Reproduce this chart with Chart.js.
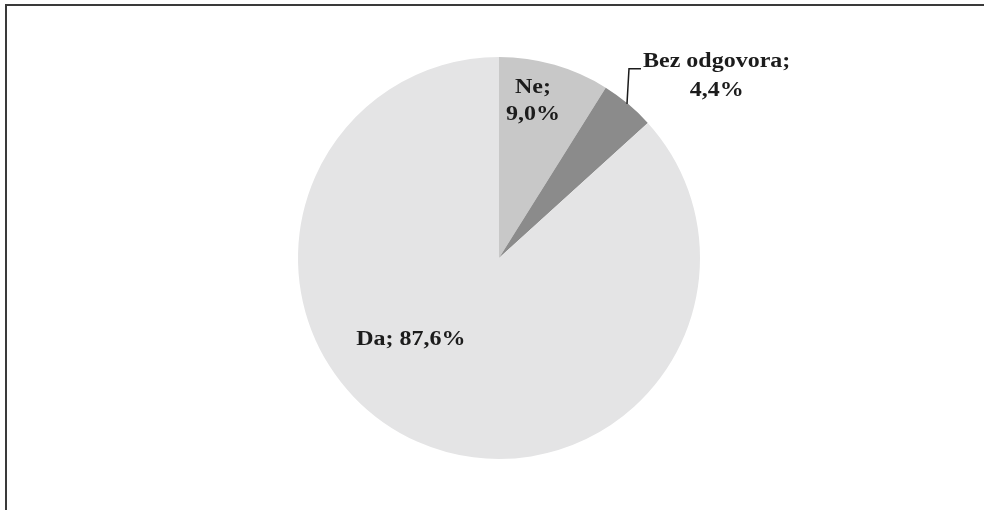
<!DOCTYPE html>
<html>
<head>
<meta charset="utf-8">
<script src="https://cdn.jsdelivr.net/npm/chart.js@4/dist/chart.umd.min.js"></script>
<style>
  html, body { margin: 0; padding: 0; background: #fff; }
  #wrap { position: relative; width: 984px; height: 510px; }
  #frame { position: absolute; left: 5px; top: 4px; right: 0; bottom: 0;
           border-top: 2px solid #3a3a3a; border-left: 2px solid #3a3a3a; }
  canvas { position: absolute; left: 0; top: 0; }
</style>
</head>
<body>
<div id="wrap">
  <div id="frame"></div>
  <canvas id="pie" width="984" height="510"></canvas>
</div>
<script>
// answers, clockwise from the top
const labels = ["Ne", "Bez odgovora", "Da"];
const shares = [9.0, 4.4, 87.6];
const sliceColors = ["#c8c8c8", "#8b8b8b", "#e4e4e5"];

// where each label goes: angle from top (deg), distance as fraction of radius
const placement = [
  { angle: 12.2, r: 0.80 },
  { leader: true },
  { angle: 227, r: 0.60 }
];

const stretch = 1.2; // the original text is drawn a bit wide

function fmt(v) {
  return v.toFixed(1).replace(".", ",") + "%";
}

function wideText(ctx, s, x, y) {
  ctx.save();
  ctx.translate(x, y);
  ctx.scale(stretch, 1);
  ctx.fillText(s, 0, 0);
  ctx.restore();
}

const labelPlugin = {
  id: "sliceLabels",
  afterDatasetsDraw(chart) {
    const ctx = chart.ctx;
    const arcs = chart.getDatasetMeta(0).data;
    ctx.save();
    ctx.font = "bold 20px 'Liberation Serif'";
    ctx.fillStyle = "#1c1c1c";
    ctx.textBaseline = "middle";
    ctx.textAlign = "center";
    arcs.forEach((arc, i) => {
      const p = placement[i];
      const { x, y, outerRadius, startAngle, endAngle } = arc.getProps(["x", "y", "outerRadius", "startAngle", "endAngle"], true);
      if (p.leader) {
        const mid = (startAngle + endAngle) / 2;
        const ex = x + Math.cos(mid) * outerRadius - 1;
        const ey = y + Math.sin(mid) * outerRadius;
        const ky = ey - 35;
        ctx.strokeStyle = "#1c1c1c";
        ctx.lineWidth = 1.5;
        ctx.beginPath();
        ctx.moveTo(ex, ey);
        ctx.lineTo(ex + 2, ky);
        ctx.lineTo(ex + 14, ky);
        ctx.stroke();
        const l1 = labels[i] + ";";
        const w = ctx.measureText(l1).width * stretch;
        const cx = ex + 16 + w / 2;
        wideText(ctx, l1, cx, ky - 7);
        wideText(ctx, fmt(shares[i]), cx, ky + 22);
      } else {
        const a = (p.angle - 90) * Math.PI / 180;
        const cx = x + Math.cos(a) * outerRadius * p.r;
        const cy = y + Math.sin(a) * outerRadius * p.r;
        if (labels[i] === "Da") {
          wideText(ctx, labels[i] + "; " + fmt(shares[i]), cx, cy);
        } else {
          wideText(ctx, labels[i] + ";", cx, cy - 13);
          wideText(ctx, fmt(shares[i]), cx, cy + 14);
        }
      }
    });
    ctx.restore();
  }
};

new Chart("pie", {
  type: "pie",
  data: {
    labels: labels,
    datasets: [{
      data: shares,
      backgroundColor: sliceColors,
      borderWidth: 0
    }]
  },
  options: {
    responsive: false,
    animation: false,
    layout: { padding: { top: 57, bottom: 51, left: 200, right: 186 } },
    plugins: {
      legend: { display: false },
      tooltip: { enabled: false }
    }
  },
  plugins: [labelPlugin]
});
</script>
</body>
</html>
